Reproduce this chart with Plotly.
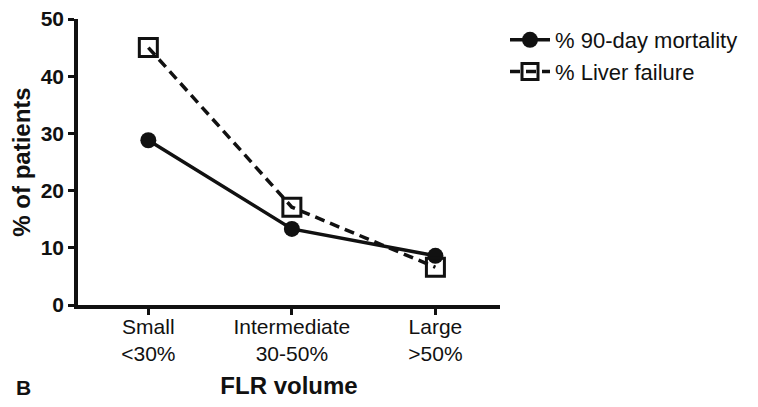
import plotly.graph_objects as go

# FLR volume groups and outcome rates (% of patients)
categories = ["Small", "Intermediate", "Large"]
tick_labels = ["Small<br>&lt;30%", "Intermediate<br>30-50%", "Large<br>&gt;50%"]
mortality_90d = [28.8, 13.3, 8.6]
liver_failure = [45.0, 17.1, 6.6]
y_ticks = [0, 10, 20, 30, 40, 50]

FONT = "Liberation Sans, Arial, sans-serif"

# the page body sits 8px in from the window edge, margins account for it
L, R, T, B = 70, 266, 11, 110
plot_w = 758 - L - R
plot_h = 407 - T - B

fig = go.Figure()

fig.add_trace(go.Scatter(
    x=categories, y=mortality_90d,
    mode="lines+markers", name="% 90-day mortality",
    line=dict(color="#111111", width=3.5),
    marker=dict(symbol="circle", size=16, color="#111111"),
    cliponaxis=False
))

fig.add_trace(go.Scatter(
    x=categories, y=liver_failure,
    mode="lines+markers", name="% Liver failure",
    line=dict(color="#111111", width=3.5, dash="10px,6px"),
    marker=dict(symbol="square-open", size=18, color="#111111", line=dict(width=3)),
    cliponaxis=False
))

fig.update_layout(
    width=758, height=407,
    paper_bgcolor="white", plot_bgcolor="white",
    margin=dict(l=L, r=R, t=T, b=B, autoexpand=False),
    font=dict(family=FONT, color="#111111"),
    showlegend=True,
    legend=dict(
        x=(497 - L) / plot_w, y=(407 - B - 11) / plot_h,
        xanchor="left", yanchor="top",
        font=dict(size=22, color="#111111"),
        bgcolor="rgba(0,0,0,0)",
        itemwidth=40,
        tracegroupgap=0
    ),
    xaxis=dict(
        type="category",
        range=[-0.49, 2.45],
        automargin=False,
        tickmode="array", tickvals=categories, ticktext=tick_labels,
        tickfont=dict(size=21),
        ticks="outside", ticklen=6, tickwidth=3, tickcolor="#111111",
        ticklabelstandoff=-6,
        showline=True, linewidth=3.5, linecolor="#111111",
        showgrid=False, zeroline=False,
        title=dict(text="<b>FLR volume</b>", font=dict(size=24), standoff=14)
    ),
    yaxis=dict(
        range=[0, 50],
        automargin=False,
        tickmode="array", tickvals=y_ticks,
        ticktext=[f"<b>{v}</b>" for v in y_ticks],
        tickfont=dict(size=21),
        ticklabeloverflow="allow",
        ticks="outside", ticklen=6, tickwidth=3, tickcolor="#111111",
        showline=True, linewidth=3.5, linecolor="#111111",
        showgrid=False, zeroline=False,
        title=dict(text="<b>% of patients</b>", font=dict(size=24), standoff=6)
    ),
    annotations=[dict(
        text="<b>B</b>",
        x=(6 - L) / plot_w, y=(407 - B - 379) / plot_h,
        xref="paper", yref="paper", xanchor="left", yanchor="middle",
        showarrow=False, font=dict(size=21)
    )]
)

fig.write_html("out.html")
